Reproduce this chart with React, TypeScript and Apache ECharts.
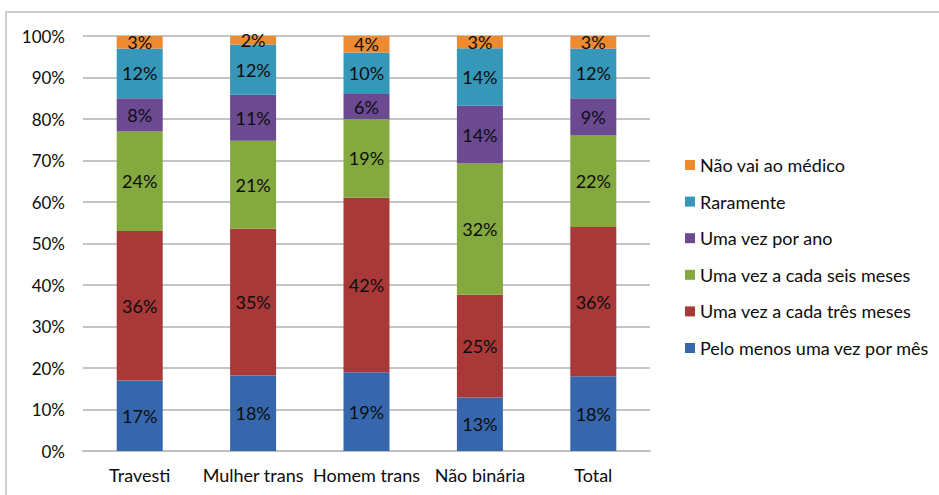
import React, { useEffect, useRef } from "react";
import * as echarts from "echarts";

const categories = ["Travesti", "Mulher trans", "Homem trans", "Não binária", "Total"];
const seriesNames = [
  "Pelo menos uma vez por mês",
  "Uma vez a cada três meses",
  "Uma vez a cada seis meses",
  "Uma vez por ano",
  "Raramente",
  "Não vai ao médico",
];
const peloMenos = [17, 18, 19, 13, 18];
const tresMeses = [36, 35, 42, 25, 36];
const seisMeses = [24, 21, 19, 32, 22];
const porAno = [8, 11, 6, 14, 9];
const raramente = [12, 12, 10, 14, 12];
const naoVai = [3, 2, 4, 3, 3];
const yTicks = [0, 10, 20, 30, 40, 50, 60, 70, 80, 90, 100];

const allValues = [peloMenos, tresMeses, seisMeses, porAno, raramente, naoVai];
const colors = ["#3667ad", "#a93838", "#84a93f", "#6b4a92", "#3797b8", "#ee8a30"];
const FONT = "Lato, 'Open Sans', sans-serif";

export default function App() {
  const ref = useRef<HTMLDivElement>(null);
  useEffect(() => {
    document.body.style.margin = "0";
    if (!ref.current) return;
    const chart = echarts.init(ref.current, undefined, { renderer: "svg" });
    const sums = categories.map((_, i) => allValues.reduce((s, arr) => s + arr[i], 0));
    const series = seriesNames.map((name, k) => ({
      name,
      type: "bar" as const,
      stack: "total",
      barWidth: 46,
      itemStyle: { color: colors[k] },
      label: {
        show: true,
        position: "inside" as const,
        color: "#0d0d0d",
        fontFamily: FONT,
        fontSize: 18,
        formatter: (p: any) => `${allValues[k][p.dataIndex]}%`,
      },
      data: allValues[k].map((v, i) => (v / sums[i]) * 100),
    }));
    chart.setOption({
      animation: false,
      backgroundColor: "#ffffff",
      grid: { left: 83, right: 289, top: 36, bottom: 44, containLabel: false },
      legend: {
        orient: "vertical",
        left: 680,
        top: 151,
        itemWidth: 10,
        itemHeight: 10,
        itemGap: 18.6,
        icon: "rect",
        data: [...seriesNames].reverse(),
        textStyle: { fontFamily: FONT, fontSize: 18, color: "#0d0d0d", padding: [0, 0, 0, 0] },
      },
      xAxis: {
        type: "category",
        data: categories,
        axisTick: { show: false },
        axisLine: { lineStyle: { color: "#bfbfbf", width: 2 } },
        axisLabel: { interval: 0, fontFamily: FONT, fontSize: 18, color: "#0d0d0d", margin: 15 },
      },
      yAxis: {
        type: "value",
        min: yTicks[0],
        max: yTicks[yTicks.length - 1],
        interval: 10,
        axisLine: { show: false },
        axisTick: { show: false },
        splitLine: { lineStyle: { color: "#c4c4c4", width: 2 } },
        axisLabel: { fontFamily: FONT, fontSize: 17, color: "#0d0d0d", margin: 18, formatter: "{value}%" },
      },
      graphic: [
        { type: "line", shape: { x1: 5, y1: 12, x2: 939, y2: 12 }, style: { stroke: "#cfcfcf", lineWidth: 2 } },
        { type: "line", shape: { x1: 6, y1: 12, x2: 6, y2: 495 }, style: { stroke: "#cfcfcf", lineWidth: 2 } },
      ],
      series,
    });
    return () => chart.dispose();
  }, []);
  return <div ref={ref} style={{ width: 939, height: 495 }} />;
}
